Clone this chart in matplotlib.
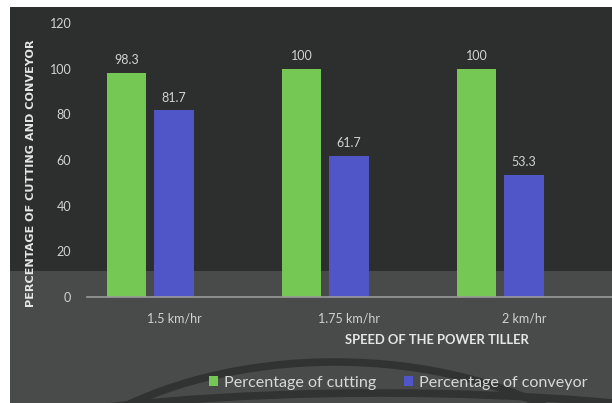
import numpy as np
import matplotlib.pyplot as plt
from matplotlib.patches import Rectangle, Ellipse

speeds = ['1.5 km/hr', '1.75 km/hr', '2 km/hr']
cutting = [98.3, 100, 100]
conveyor = [81.7, 61.7, 53.3]

font = 'Lato'
green = '#74c853'
blue = '#5056c8'
txt = '#d2d2d2'

fig = plt.figure(figsize=(6.12, 4.03), dpi=100)
fig.patch.set_facecolor('white')

# dark slide background with the lighter lower band
fig.patches.append(Rectangle((10, 0), 602, 396, transform=None,
                             facecolor='#2c2f2e', edgecolor='none', zorder=-3))
fig.patches.append(Rectangle((10, 0), 602, 132, transform=None,
                             facecolor='#494a4a', edgecolor='none', zorder=-2))
# curved decoration at the bottom
fig.patches.append(Ellipse((335, -159), 670, 400, transform=None, fill=False,
                           edgecolor='#313232', linewidth=5.5, zorder=-1))
fig.patches.append(Ellipse((380, -100), 1120, 220, transform=None, fill=False,
                           edgecolor='#313232', linewidth=5.5, zorder=-1))

ax = fig.add_axes([86.5 / 612, 106 / 403, 525 / 612, 274 / 403])
ax.set_facecolor('none')

x = np.arange(len(speeds))
w = 0.223
b1 = ax.bar(x - 0.27, cutting, w, color=green, label='Percentage of cutting')
b2 = ax.bar(x, conveyor, w, color=blue, label='Percentage of conveyor')

for bars, vals in ((b1, cutting), (b2, conveyor)):
    for r, v in zip(bars, vals):
        ax.annotate(f'{v:g}', (r.get_x() + r.get_width() / 2, v),
                    xytext=(0, 5), textcoords='offset points',
                    ha='center', va='bottom', color=txt, fontsize=9, family=font)

ax.set_xlim(-0.5, 2.5)
ax.set_ylim(0, 120)
ax.set_yticks(range(0, 121, 20))
ax.set_xticks(x)
ax.set_xticklabels(speeds)
ax.tick_params(length=0, colors=txt, labelsize=9)
ax.tick_params(axis='y', pad=11)
ax.tick_params(axis='x', pad=11)
for lab in ax.get_xticklabels() + ax.get_yticklabels():
    lab.set_family(font)

for s in ['top', 'right', 'left']:
    ax.spines[s].set_visible(False)
ax.spines['bottom'].set_color('#9a9a9a')
ax.spines['bottom'].set_linewidth(1.2)

fig.text(31 / 612, 1 - 173 / 403, 'PERCENTAGE OF CUTTING AND CONVEYOR',
         rotation=90, ha='center', va='center', color='#e6e6e6',
         fontsize=8.1, fontweight='bold', family='DejaVu Sans')
fig.text(437 / 612, 1 - 340 / 403, 'SPEED OF THE POWER TILLER',
         ha='center', va='center', color='#e6e6e6',
         fontsize=9.4, fontweight='bold', family=font)

fig.legend(handles=[b1, b2], loc='center', bbox_to_anchor=(398 / 612, 1 - 383 / 403),
           ncol=2, frameon=False, labelcolor='#d8d8d8',
           prop={'family': font, 'size': 11.6},
           handlelength=0.6, handleheight=0.6, handletextpad=0.35, columnspacing=1.7)

fig.savefig('out.png', dpi=100)
